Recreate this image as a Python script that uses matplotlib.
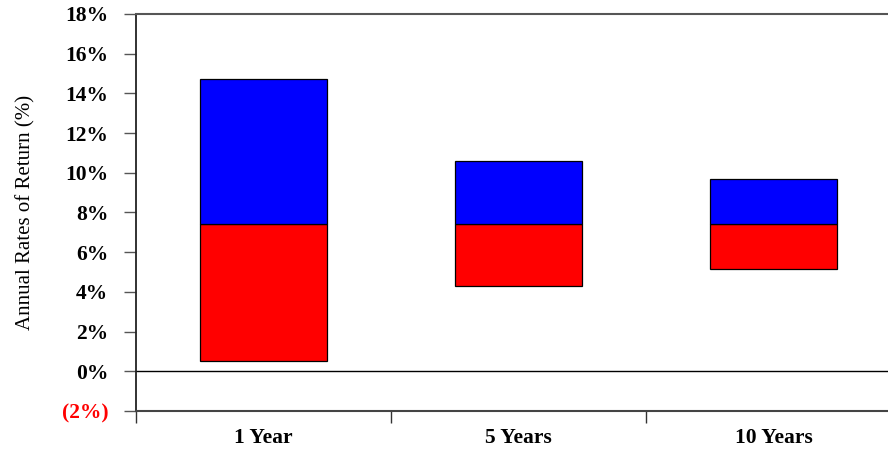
import numpy as np
import matplotlib.pyplot as plt
from matplotlib.ticker import FixedLocator

# Range of annual returns by holding period
periods = ['1 Year', '5 Years', '10 Years']
low = [0.53, 4.30, 5.17]
mid = [7.41, 7.41, 7.41]
high = [14.73, 10.61, 9.67]

yticks = [-2, 0, 2, 4, 6, 8, 10, 12, 14, 16, 18]
ytick_labels = ['(2%)', '0%', '2%', '4%', '6%', '8%', '10%', '12%', '14%', '16%', '18%']

plt.rcParams['font.family'] = ['Liberation Serif', 'DejaVu Serif']

fig = plt.figure(figsize=(8.88, 4.5), dpi=100)
ax = fig.add_axes([0.1532, 0.0867, 1.0147 - 0.1532, 0.8822])

x = np.arange(len(periods))
low = np.array(low)
mid = np.array(mid)
high = np.array(high)

ax.bar(x, mid - low, bottom=low, width=0.5, color='#ff0000',
       edgecolor='black', linewidth=0.9, zorder=3)
ax.bar(x, high - mid, bottom=mid, width=0.5, color='#0000ff',
       edgecolor='black', linewidth=0.9, zorder=3)

ax.axhline(0, color='black', linewidth=1.0, zorder=2)

ax.set_xlim(-0.5, 2.5)
ax.set_ylim(-2, 18)

ax.set_yticks(yticks)
ax.set_yticklabels(ytick_labels, fontsize=15.5, fontweight='bold')
ax.get_yticklabels()[0].set_color('#ff0000')
ax.tick_params(axis='y', direction='out', length=9, width=1.0, pad=11, color='#555555')

ax.set_xticks(x)
ax.set_xticklabels(periods, fontsize=15.5, fontweight='bold')
ax.tick_params(axis='x', which='major', length=0, pad=12)
ax.xaxis.set_minor_locator(FixedLocator([-0.5, 0.5, 1.5]))
ax.tick_params(axis='x', which='minor', direction='out', length=8.5, width=1.0, color='#333333')

ax.set_ylabel('Annual Rates of Return (%)', fontsize=15)
ax.yaxis.set_label_coords(-0.132, 0.5)

ax.spines['left'].set_color('#222222')
ax.spines['left'].set_linewidth(1.3)
ax.spines['top'].set_color('#555555')
ax.spines['top'].set_linewidth(1.5)
ax.spines['bottom'].set_color('#444444')
ax.spines['bottom'].set_linewidth(1.5)
ax.spines['right'].set_visible(False)

fig.savefig('out.png', dpi=100)
